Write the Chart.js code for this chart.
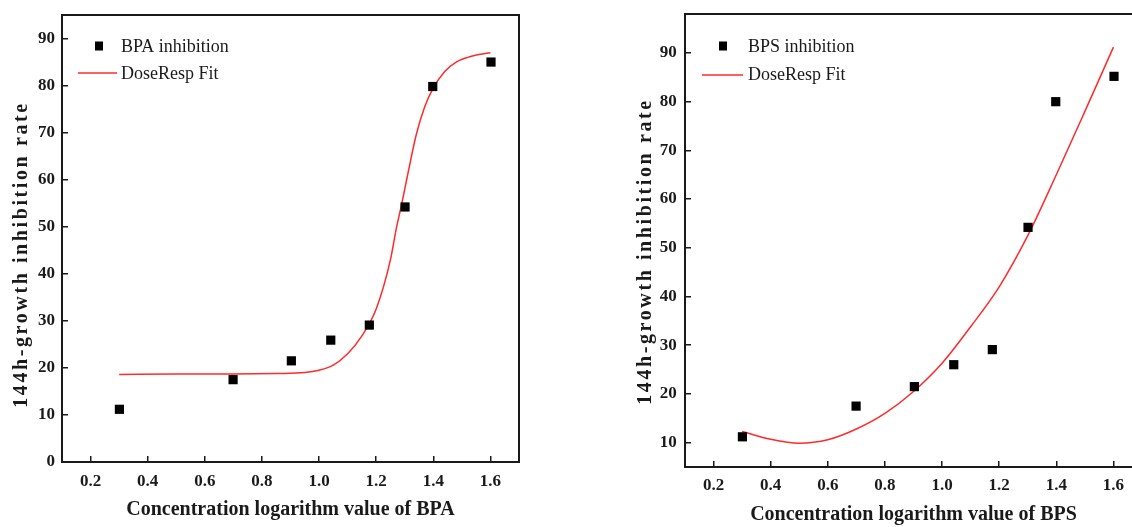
<!DOCTYPE html>
<html>
<head>
<meta charset="utf-8">
<script src="https://cdn.jsdelivr.net/npm/chart.js@4.4.1/dist/chart.umd.min.js"></script>
<style>
  html, body { margin: 0; padding: 0; background: #ffffff; }
  body { width: 1132px; height: 527px; overflow: hidden; position: relative; }
  #wrapA { position: absolute; left: 0; top: 0; width: 560px; height: 527px; }
  #wrapB { position: absolute; left: 580px; top: 0; width: 580px; height: 527px; }
  canvas { display: block; }
</style>
</head>
<body>
<div id="wrapA"><canvas id="chartA" width="560" height="527"></canvas></div>
<div id="wrapB"><canvas id="chartB" width="580" height="527"></canvas></div>
<script>
// ---------- data ----------
const logConc = [0.301, 0.699, 0.903, 1.041, 1.176, 1.301, 1.398, 1.602];
const bpaInhibition = [11.2, 17.5, 21.5, 25.9, 29.1, 54.2, 79.8, 85.0];
const bpsInhibition = [11.2, 17.5, 21.5, 26.0, 29.1, 54.2, 80.0, 85.2];

const bpaFitX = [0.30, 0.50, 0.70, 0.85, 0.95, 1.00, 1.05, 1.10, 1.15, 1.20, 1.25, 1.27, 1.29, 1.31, 1.34, 1.37, 1.40, 1.44, 1.48, 1.52, 1.56, 1.60];
const bpaFitY = [18.6, 18.7, 18.7, 18.8, 19.0, 19.5, 20.6, 23.0, 26.8, 32.5, 43.0, 49.5, 55.0, 61.0, 69.5, 75.5, 79.5, 83.0, 85.0, 86.0, 86.6, 87.0];

const bpsFitX = [0.30, 0.40, 0.50, 0.60, 0.70, 0.80, 0.90, 1.00, 1.10, 1.20, 1.30, 1.40, 1.50, 1.60];
const bpsFitY = [12.3, 10.7, 9.9, 10.6, 12.8, 16.0, 20.5, 26.3, 33.8, 42.0, 52.5, 65.0, 78.0, 91.2];

const xTickValues = [0.2, 0.4, 0.6, 0.8, 1.0, 1.2, 1.4, 1.6];
const yTickValuesA = [0, 10, 20, 30, 40, 50, 60, 70, 80, 90];
const yTickValuesB = [10, 20, 30, 40, 50, 60, 70, 80, 90];

const labelsA = { points: 'BPA inhibition', fit: 'DoseResp Fit', xTitle: 'Concentration logarithm value of BPA' };
const labelsB = { points: 'BPS inhibition', fit: 'DoseResp Fit', xTitle: 'Concentration logarithm value of BPS' };
const yTitle = '144h-growth inhibition rate';

// ---------- styling ----------
const INK = '#1a1a1a';
const RED = '#ff2a2a';
const SERIF = "'Liberation Serif', 'Times New Roman', 'DejaVu Serif', serif";

const toXY = (xs, ys) => xs.map((x, i) => ({ x: x, y: ys[i] }));

// frame box around plot area
const framePlugin = {
  id: 'frame',
  afterDraw(chart) {
    const { ctx, chartArea: a } = chart;
    ctx.save();
    ctx.strokeStyle = INK;
    ctx.lineWidth = 2;
    ctx.strokeRect(a.left, a.top, a.right - a.left, a.bottom - a.top);
    ctx.restore();
  }
};

// in-plot legend
const legendPlugin = {
  id: 'inLegend',
  afterDraw(chart, args, o) {
    const { ctx, chartArea: a } = chart;
    const ds = chart.data.datasets;
    ctx.save();
    ctx.fillStyle = '#000';
    ctx.fillRect(a.left + o.markX - 4, a.top + o.markY - 4.5, 8, 9);
    ctx.strokeStyle = RED;
    ctx.lineWidth = 1.5;
    ctx.beginPath();
    ctx.moveTo(a.left + o.lineX1, a.top + o.lineY);
    ctx.lineTo(a.left + o.lineX2, a.top + o.lineY);
    ctx.stroke();
    ctx.fillStyle = INK;
    ctx.font = "18px " + SERIF;
    ctx.textAlign = 'left';
    ctx.textBaseline = 'middle';
    ctx.fillText(ds[0].label, a.left + o.textX, a.top + o.text1Y);
    ctx.fillText(ds[1].label, a.left + o.textX, a.top + o.text2Y);
    ctx.restore();
  }
};

// spaced / shifted y title
const yTitlePlugin = {
  id: 'yTitleStyle',
  beforeDraw(chart, args, o) {
    const s = chart.scales.y;
    if (!s || s.__patched) return;
    const proto = Object.getPrototypeOf(s);
    s.drawTitle = function () {
      const ctx = this.ctx;
      ctx.save();
      ctx.letterSpacing = o.spacing + 'px';
      ctx.translate(0, o.shift);
      proto.drawTitle.call(this);
      ctx.restore();
    };
    s.__patched = true;
  }
};

function makeChart(id, cfg) {
  return new Chart(document.getElementById(id), {
    type: 'scatter',
    data: {
      datasets: [
        {
          label: cfg.labels.points,
          data: toXY(logConc, cfg.values),
          showLine: false,
          pointStyle: 'rect',
          pointRadius: 6.5,
          pointHoverRadius: 6.5,
          backgroundColor: '#000',
          borderColor: '#000',
          borderWidth: 0
        },
        {
          label: cfg.labels.fit,
          data: toXY(cfg.fitX, cfg.fitY),
          showLine: true,
          pointRadius: 0,
          borderColor: RED,
          borderWidth: 1.5,
          cubicInterpolationMode: 'monotone',
          fill: false
        }
      ]
    },
    options: {
      responsive: false,
      devicePixelRatio: 1,
      animation: false,
      events: [],
      layout: { padding: cfg.padding },
      plugins: {
        legend: { display: false },
        tooltip: { enabled: false },
        inLegend: cfg.legend,
        yTitleStyle: cfg.yTitleStyle
      },
      scales: {
        x: {
          type: 'linear',
          position: 'bottom',
          min: 0.1,
          max: 1.7,
          afterBuildTicks: s => { s.ticks = xTickValues.map(v => ({ value: v })); },
          afterFit: s => { s.height = cfg.xHeight; s.paddingLeft = 0; s.paddingRight = 0; },
          grid: { drawOnChartArea: false, drawTicks: true, tickLength: -6, color: INK, lineWidth: 1.5 },
          border: { display: false },
          ticks: {
            padding: cfg.xTickPad,
            color: INK,
            maxRotation: 0,
            autoSkip: false,
            font: { family: SERIF, size: 17, weight: 'bold' },
            callback: v => Number(v).toFixed(1)
          },
          title: {
            display: true,
            text: cfg.labels.xTitle,
            color: INK,
            font: { family: SERIF, size: 20, weight: 'bold' },
            padding: { top: 0, bottom: cfg.xTitlePad }
          }
        },
        y: {
          type: 'linear',
          position: 'left',
          min: cfg.yMin,
          max: cfg.yMax,
          afterBuildTicks: s => { s.ticks = cfg.yTicks.map(v => ({ value: v })); },
          afterFit: s => { s.width = cfg.yWidth; s.paddingTop = 0; s.paddingBottom = 0; },
          grid: { drawOnChartArea: false, drawTicks: true, tickLength: -6, color: INK, lineWidth: 1.5 },
          border: { display: false },
          ticks: {
            padding: cfg.yTickPad,
            color: INK,
            autoSkip: false,
            font: { family: SERIF, size: 17, weight: 'bold' },
            callback: v => String(v)
          },
          title: {
            display: true,
            text: yTitle,
            color: INK,
            font: { family: SERIF, size: 20, weight: 'bold' },
            padding: { top: cfg.yTitlePad, bottom: 0 }
          }
        }
      }
    },
    plugins: [yTitlePlugin, framePlugin, legendPlugin]
  });
}

makeChart('chartA', {
  labels: labelsA,
  values: bpaInhibition,
  fitX: bpaFitX,
  fitY: bpaFitY,
  yMin: 0, yMax: 95,
  yTicks: yTickValuesA,
  padding: { left: 0, right: 41, top: 15, bottom: 0 },
  xHeight: 65,
  yWidth: 62,
  xTickPad: 15,
  yTickPad: 13,
  xTitlePad: 5,
  yTitlePad: 10,
  yTitleStyle: { spacing: 2.6, shift: 16 },
  legend: { markX: 37, markY: 31, lineX1: 16, lineX2: 55, lineY: 58, textX: 59, text1Y: 32, text2Y: 59.5 }
});

makeChart('chartB', {
  labels: labelsB,
  values: bpsInhibition,
  fitX: bpsFitX,
  fitY: bpsFitY,
  yMin: 5, yMax: 98,
  yTicks: yTickValuesB,
  padding: { left: 0, right: 18, top: 14, bottom: 0 },
  xHeight: 60,
  yWidth: 105,
  xTickPad: 14.6,
  yTickPad: 14.3,
  xTitlePad: 0,
  yTitlePad: 54,
  yTitleStyle: { spacing: 2.6, shift: 11 },
  legend: { markX: 38, markY: 32, lineX1: 17, lineX2: 58, lineY: 61, textX: 63, text1Y: 33, text2Y: 61 }
});
</script>
</body>
</html>
